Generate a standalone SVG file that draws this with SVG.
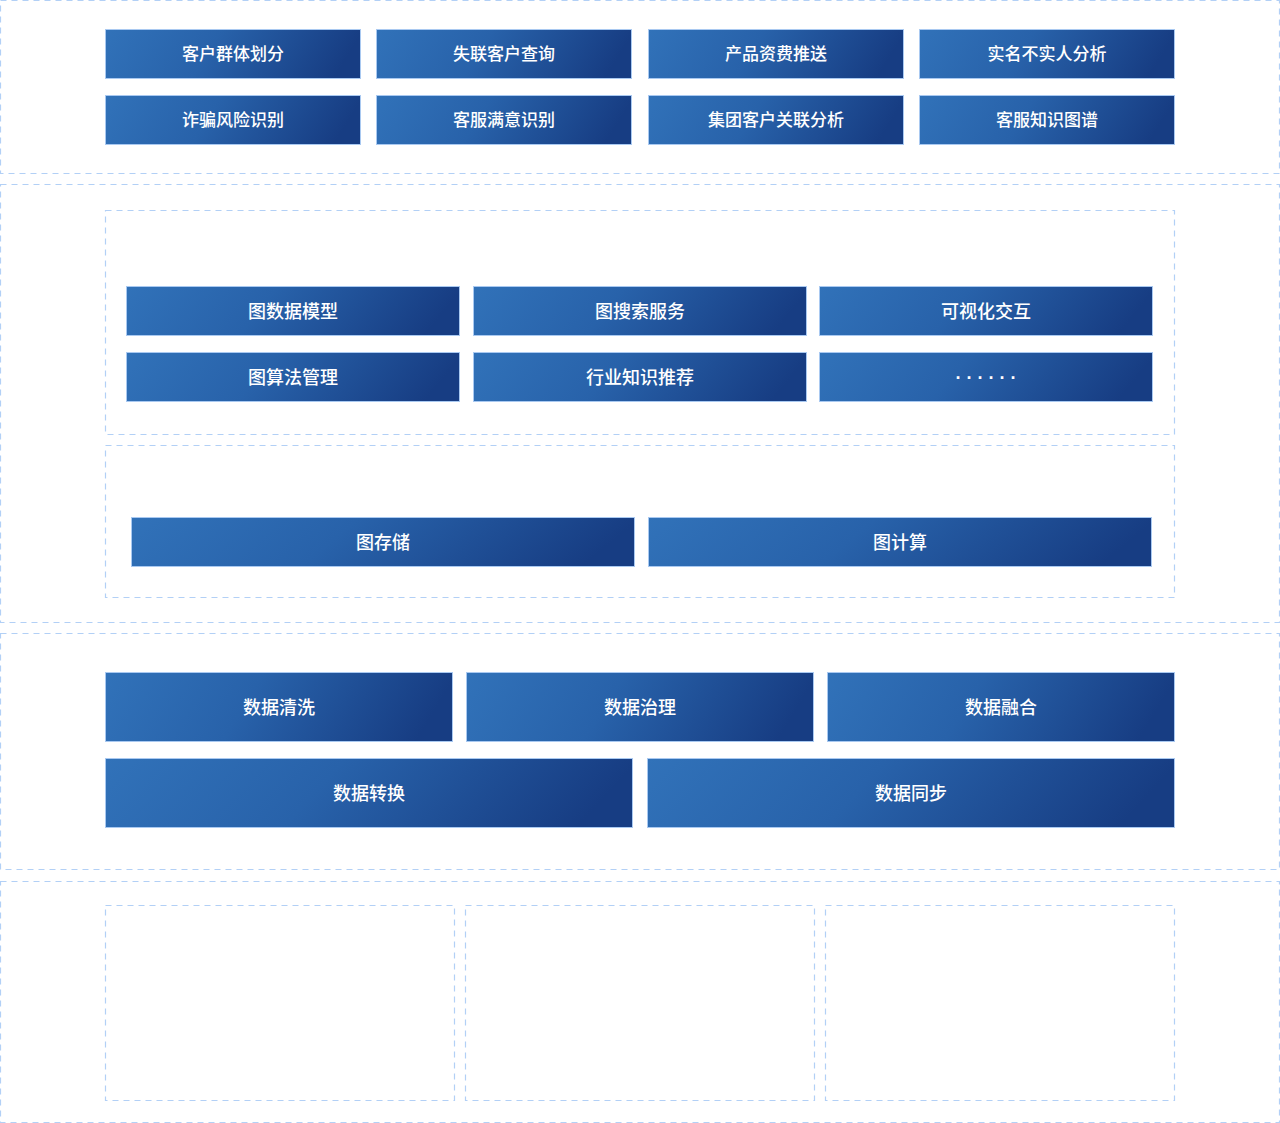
<svg xmlns="http://www.w3.org/2000/svg" width="1280" height="1123" viewBox="0 0 1280 1123">
<defs>
<linearGradient id="g" x1="0" y1="0" x2="1" y2="0.12">
<stop offset="0" stop-color="#3172b9"/>
<stop offset="0.45" stop-color="#2862aa"/>
<stop offset="1" stop-color="#173d83"/>
</linearGradient>
<style>
.sec{fill:none;stroke:#b2d0f6;stroke-width:1.2;stroke-dasharray:6 5}
.btn rect{fill:url(#g);stroke:#a9c9f1;stroke-width:1}
.btn text{fill:#fff;font-family:"Noto Sans CJK SC","Liberation Sans",sans-serif;font-weight:500;text-anchor:middle;dominant-baseline:central}
.s17 text{font-size:17px}
.s18 text{font-size:18px}
.btn text.dots{font-family:"Liberation Sans",sans-serif;font-weight:700}
</style>
</defs>
<rect width="1280" height="1123" fill="#fff"/>
<g id="sections">
<rect class="sec" x="0.5" y="0.5" width="1279" height="173"/>
<rect class="sec" x="0.5" y="184.5" width="1279" height="438"/>
<rect class="sec" x="105.5" y="210.5" width="1069" height="224"/>
<rect class="sec" x="105.5" y="445.5" width="1069" height="152"/>
<rect class="sec" x="0.5" y="633.5" width="1279" height="236"/>
<rect class="sec" x="0.5" y="881.5" width="1279" height="241"/>
<rect class="sec" x="105.5" y="905.5" width="349" height="195"/>
<rect class="sec" x="465.5" y="905.5" width="349" height="195"/>
<rect class="sec" x="825.5" y="905.5" width="349" height="195"/>
</g>
<g class="s17">
<g id="n1" class="btn"><rect x="105.5" y="29.5" width="255" height="49"/><text x="233" y="52.5">客户群体划分</text></g>
<g id="n2" class="btn"><rect x="376.5" y="29.5" width="255" height="49"/><text x="504" y="52.5">失联客户查询</text></g>
<g id="n3" class="btn"><rect x="648.5" y="29.5" width="255" height="49"/><text x="776" y="52.5">产品资费推送</text></g>
<g id="n4" class="btn"><rect x="919.5" y="29.5" width="255" height="49"/><text x="1047" y="52.5">实名不实人分析</text></g>
<g id="n5" class="btn"><rect x="105.5" y="95.5" width="255" height="49"/><text x="233" y="118.5">诈骗风险识别</text></g>
<g id="n6" class="btn"><rect x="376.5" y="95.5" width="255" height="49"/><text x="504" y="118.5">客服满意识别</text></g>
<g id="n7" class="btn"><rect x="648.5" y="95.5" width="255" height="49"/><text x="776" y="118.5">集团客户关联分析</text></g>
<g id="n8" class="btn"><rect x="919.5" y="95.5" width="255" height="49"/><text x="1047" y="118.5">客服知识图谱</text></g>
</g>
<g class="s18">
<g id="n9" class="btn"><rect x="126.5" y="286.5" width="333" height="49"/><text x="293" y="309.5">图数据模型</text></g>
<g id="n10" class="btn"><rect x="473.5" y="286.5" width="333" height="49"/><text x="640" y="309.5">图搜索服务</text></g>
<g id="n11" class="btn"><rect x="819.5" y="286.5" width="333" height="49"/><text x="986" y="309.5">可视化交互</text></g>
<g id="n12" class="btn"><rect x="126.5" y="352.5" width="333" height="49"/><text x="293" y="375.5">图算法管理</text></g>
<g id="n13" class="btn"><rect x="473.5" y="352.5" width="333" height="49"/><text x="640" y="375.5">行业知识推荐</text></g>
<g id="n14" class="btn"><rect x="819.5" y="352.5" width="333" height="49"/><text class="dots" x="986" y="378">· · · · · ·</text></g>
<g id="n15" class="btn"><rect x="131.5" y="517.5" width="503" height="49"/><text x="383" y="540.5">图存储</text></g>
<g id="n16" class="btn"><rect x="648.5" y="517.5" width="503" height="49"/><text x="900" y="540.5">图计算</text></g>
<g id="n17" class="btn"><rect x="105.5" y="672.5" width="347" height="69"/><text x="279" y="705.5">数据清洗</text></g>
<g id="n18" class="btn"><rect x="466.5" y="672.5" width="347" height="69"/><text x="640" y="705.5">数据治理</text></g>
<g id="n19" class="btn"><rect x="827.5" y="672.5" width="347" height="69"/><text x="1001" y="705.5">数据融合</text></g>
<g id="n20" class="btn"><rect x="105.5" y="758.5" width="527" height="69"/><text x="369" y="791.5">数据转换</text></g>
<g id="n21" class="btn"><rect x="647.5" y="758.5" width="527" height="69"/><text x="911" y="791.5">数据同步</text></g>
</g>
<g id="connectors"/>
</svg>
